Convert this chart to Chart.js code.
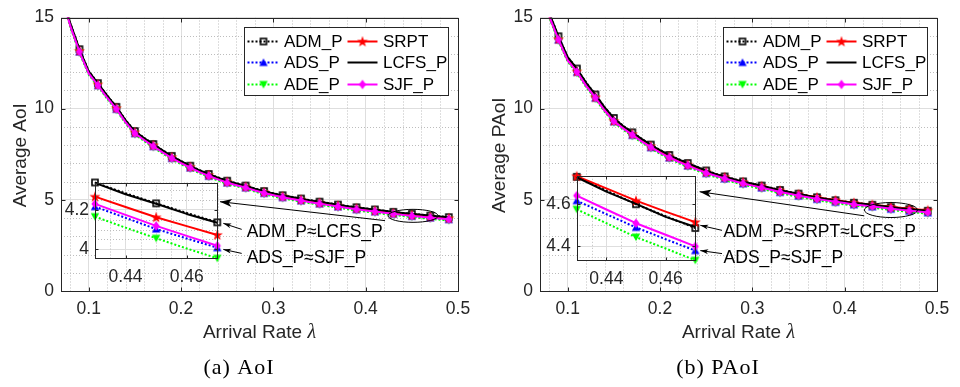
<!DOCTYPE html>
<html><head><meta charset="utf-8">
<script src="https://cdn.jsdelivr.net/npm/chart.js@4.4.1/dist/chart.umd.min.js"></script>
<style>
html,body{margin:0;padding:0;background:#fff;}
#wrap{position:relative;width:960px;height:387px;overflow:hidden;background:#fff;}
#wrap canvas{position:absolute;left:0;top:0;}
</style></head><body>
<div id="wrap">
<canvas id="mainA" width="960" height="387"></canvas>
<canvas id="insetA" width="960" height="387"></canvas>
<canvas id="mainB" width="960" height="387"></canvas>
<canvas id="insetB" width="960" height="387"></canvas>
</div>
<script>
// ---------------- data ----------------
const lambda = [0.07,0.08,0.09,0.10,0.11,0.12,0.13,0.14,0.15,0.16,0.17,0.18,0.19,0.20,0.21,0.22,0.23,0.24,0.25,0.26,0.27,0.28,0.29,0.30,0.31,0.32,0.33,0.34,0.35,0.36,0.37,0.38,0.39,0.40,0.41,0.42,0.43,0.44,0.45,0.46,0.47,0.48,0.49];
const seriesNames = ['ADM_P','ADS_P','ADE_P','SRPT','LCFS_P','SJF_P'];

// (a) Average AoI
const aoiADM  = [16.45,14.70,13.26,12.06,11.40,10.72,10.10,9.37,8.77,8.40,8.06,7.72,7.41,7.13,6.87,6.63,6.42,6.23,6.05,5.91,5.78,5.62,5.48,5.36,5.25,5.16,5.07,4.98,4.90,4.82,4.74,4.66,4.59,4.53,4.47,4.40,4.34,4.285,4.234,4.185,4.137,4.095,4.05];
const aoiADS  = [16.29,14.54,13.11,11.92,11.27,10.59,9.97,9.24,8.64,8.27,7.93,7.59,7.28,7.00,6.75,6.51,6.30,6.11,5.93,5.79,5.66,5.50,5.36,5.24,5.13,5.04,4.95,4.86,4.78,4.70,4.62,4.54,4.467,4.407,4.347,4.277,4.217,4.16,4.103,4.055,4.008,3.962,3.922];
const aoiADE  = [16.24,14.49,13.06,11.87,11.22,10.54,9.92,9.19,8.59,8.22,7.88,7.54,7.23,6.95,6.70,6.46,6.25,6.06,5.88,5.74,5.61,5.45,5.31,5.19,5.08,4.99,4.90,4.81,4.73,4.65,4.57,4.49,4.416,4.356,4.296,4.226,4.166,4.11,4.056,4.004,3.954,3.911,3.871];
const aoiSRPT = [16.35,14.60,13.17,11.98,11.33,10.65,10.03,9.30,8.70,8.33,7.99,7.65,7.34,7.06,6.81,6.57,6.36,6.17,5.99,5.85,5.72,5.56,5.42,5.30,5.19,5.10,5.01,4.92,4.84,4.76,4.68,4.60,4.53,4.465,4.405,4.33,4.268,4.215,4.163,4.118,4.073,4.03,3.99];
const aoiLCFS = [16.44,14.69,13.25,12.05,11.39,10.71,10.09,9.36,8.76,8.39,8.05,7.71,7.40,7.12,6.86,6.62,6.41,6.22,6.04,5.90,5.77,5.61,5.47,5.35,5.24,5.15,5.06,4.97,4.89,4.81,4.73,4.65,4.58,4.52,4.46,4.395,4.338,4.28,4.232,4.18,4.135,4.09,4.045];
const aoiSJF  = [16.30,14.55,13.12,11.93,11.28,10.60,9.98,9.25,8.65,8.28,7.94,7.60,7.29,7.01,6.76,6.52,6.31,6.12,5.94,5.80,5.67,5.51,5.37,5.25,5.14,5.05,4.96,4.87,4.79,4.71,4.63,4.55,4.48,4.42,4.36,4.29,4.231,4.175,4.119,4.068,4.018,3.975,3.935];

// (b) Average PAoI
const paoiADM  = [17.08,15.25,13.97,12.83,12.20,11.43,10.78,10.08,9.49,9.06,8.70,8.35,8.03,7.73,7.46,7.23,7.02,6.81,6.61,6.43,6.28,6.14,6.01,5.89,5.78,5.66,5.54,5.44,5.34,5.23,5.14,5.06,4.98,4.91,4.84,4.785,4.73,4.665,4.60,4.543,4.487,4.445,4.40];
const paoiADS  = [16.88,15.05,13.77,12.63,12.00,11.23,10.58,9.88,9.29,8.90,8.54,8.19,7.87,7.57,7.30,7.07,6.86,6.65,6.45,6.30,6.15,6.01,5.88,5.76,5.65,5.53,5.41,5.31,5.21,5.12,5.03,4.95,4.87,4.80,4.73,4.673,4.617,4.553,4.49,4.434,4.38,4.334,4.29];
const paoiADE  = [16.83,15.00,13.72,12.58,11.95,11.18,10.53,9.83,9.24,8.85,8.49,8.14,7.82,7.52,7.25,7.02,6.81,6.60,6.40,6.25,6.10,5.96,5.83,5.71,5.60,5.48,5.36,5.26,5.16,5.07,4.98,4.90,4.82,4.75,4.68,4.63,4.576,4.51,4.444,4.39,4.334,4.29,4.245];
const paoiSRPT = [16.92,15.09,13.81,12.67,12.04,11.27,10.62,9.92,9.33,8.97,8.61,8.26,7.94,7.64,7.37,7.14,6.93,6.72,6.52,6.40,6.25,6.11,5.98,5.86,5.75,5.63,5.51,5.41,5.31,5.23,5.14,5.06,4.98,4.91,4.84,4.785,4.733,4.675,4.617,4.565,4.515,4.47,4.425];
const paoiLCFS = [17.07,15.24,13.96,12.82,12.19,11.42,10.77,10.07,9.48,9.05,8.69,8.34,8.02,7.72,7.45,7.22,7.01,6.80,6.60,6.42,6.27,6.13,6.00,5.88,5.77,5.65,5.53,5.43,5.33,5.22,5.13,5.05,4.97,4.90,4.83,4.78,4.728,4.66,4.602,4.54,4.492,4.44,4.398];
const paoiSJF  = [16.90,15.07,13.79,12.65,12.02,11.25,10.60,9.90,9.31,8.92,8.56,8.21,7.89,7.59,7.32,7.09,6.88,6.67,6.47,6.32,6.17,6.03,5.90,5.78,5.67,5.55,5.43,5.33,5.23,5.14,5.05,4.97,4.89,4.82,4.75,4.695,4.641,4.575,4.51,4.455,4.40,4.355,4.31];

// ticks & texts
const xTicksMain  = [0.1,0.2,0.3,0.4,0.5];
const yTicksMain  = [0,5,10,15];
const xTicksInset = [0.44,0.46];
const yTicksInsetA = [4,4.2];
const yTicksInsetB = [4.4,4.6];
const yTitles  = ['Average AoI','Average PAoI'];
const xTitle   = ['Arrival Rate ','λ'];
const captions = ['(a) AoI','(b) PAoI'];
const notesA = ['ADM_P≈LCFS_P','ADS_P≈SJF_P'];
const notesB = ['ADM_P≈SRPT≈LCFS_P','ADS_P≈SJF_P'];

// ---------------- style ----------------
const FONT = '"Liberation Sans", Arial, Helvetica, sans-serif';
const SERIF = '"Liberation Serif", "Times New Roman", serif';
const INK = '#262626';
const TICK_SIZE = 17.5, LEGEND_SIZE = 17, TITLE_SIZE = 19, NOTE_SIZE = 17.5;

function mk(w,h,fn){const c=document.createElement('canvas');c.width=w;c.height=h;fn(c.getContext('2d'),w,h);return c;}
const mSquare = mk(10,10,g=>{g.strokeStyle='#000';g.lineWidth=1.6;g.strokeRect(2,2,6,6);});
const mTriUp = mk(10,10,g=>{g.fillStyle='#0000ff';g.beginPath();g.moveTo(5,1);g.lineTo(9.2,8.4);g.lineTo(0.8,8.4);g.closePath();g.fill();});
const mTriDn = mk(10,10,g=>{g.fillStyle='#00ff00';g.beginPath();g.moveTo(5,9);g.lineTo(9.2,1.6);g.lineTo(0.8,1.6);g.closePath();g.fill();});
const mStar = mk(12,12,g=>{g.fillStyle='#ff0000';g.beginPath();for(let k=0;k<10;k++){const r=k%2?2.3:5.8;const a=-Math.PI/2+k*Math.PI/5;const px=6+r*Math.cos(a),py=6.4+r*Math.sin(a);k?g.lineTo(px,py):g.moveTo(px,py);}g.closePath();g.fill();});
const mDiamond = mk(10,12,g=>{g.fillStyle='#ff00ff';g.beginPath();g.moveTo(5,1.2);g.lineTo(8.6,6);g.lineTo(5,10.8);g.lineTo(1.4,6);g.closePath();g.fill();});

const looks = [
  {color:'#000000', dash:[2,2], marker:mSquare, order:5},
  {color:'#0000ff', dash:[2,2], marker:mTriUp, order:4},
  {color:'#00ff00', dash:[2,2], marker:mTriDn, order:3},
  {color:'#ff0000', dash:[], marker:mStar, order:2},
  {color:'#000000', dash:[], marker:null, order:1},
  {color:'#ff00ff', dash:[], marker:mDiamond, order:0},
];

function buildSets(vals, from, to){
  return vals.map((v,i)=>({
    label: seriesNames[i],
    data: lambda.slice(from,to).map((x,k)=>({x:x, y:v[from+k]})),
    borderColor: looks[i].color, backgroundColor: looks[i].color,
    borderWidth: 2, borderDash: looks[i].dash, borderCapStyle:'butt', borderJoinStyle:'round',
    pointStyle: looks[i].marker || 'circle',
    pointRadius: c => (looks[i].marker && (from + c.dataIndex) % 2 === 0) ? 4 : 0,
    pointHoverRadius: 0,
    tension: 0, fill:false, order: looks[i].order
  }));
}

// ---------------- plugins ----------------
function gridLines(chart, o){
  const {ctx, chartArea:a, scales:{x,y}} = chart;
  ctx.save();
  ctx.beginPath(); ctx.rect(a.left,a.top,a.width,a.height); ctx.clip();
  ctx.strokeStyle = '#bdbdbd'; ctx.lineWidth = 1; ctx.setLineDash([1,2]);
  ctx.beginPath();
  const near=(v,s)=>Math.abs(v/s-Math.round(v/s))<1e-6;
  for(let k=Math.ceil(x.min/o.xMinor-1e-6); k*o.xMinor<=x.max+1e-9; k++){
    const v=k*o.xMinor; if(near(v,o.xMajor)) continue;
    const p=Math.round(x.getPixelForValue(v))+0.5; ctx.moveTo(p,a.top); ctx.lineTo(p,a.bottom);
  }
  for(let k=Math.ceil(y.min/o.yMinor-1e-6); k*o.yMinor<=y.max+1e-9; k++){
    const v=k*o.yMinor; if(near(v,o.yMajor)) continue;
    const p=Math.round(y.getPixelForValue(v))+0.5; ctx.moveTo(a.left,p); ctx.lineTo(a.right,p);
  }
  ctx.stroke(); ctx.restore();
}
function boxTicks(chart, o){
  const {ctx, chartArea:a, scales:{x,y}} = chart;
  ctx.save(); ctx.strokeStyle=INK; ctx.lineWidth=1; ctx.setLineDash([]);
  const L=Math.round(a.left)+0.5,R=Math.round(a.right)+0.5,T=Math.round(a.top)+0.5,B=Math.round(a.bottom)+0.5;
  ctx.strokeRect(L,T,R-L,B-T);
  ctx.beginPath();
  for(const t of x.ticks){const p=Math.round(x.getPixelForValue(t.value))+0.5;ctx.moveTo(p,B);ctx.lineTo(p,B-o.tick);ctx.moveTo(p,T);ctx.lineTo(p,T+o.tick);}
  for(const t of y.ticks){const p=Math.round(y.getPixelForValue(t.value))+0.5;ctx.moveTo(L,p);ctx.lineTo(L+o.tick,p);ctx.moveTo(R,p);ctx.lineTo(R-o.tick,p);}
  ctx.stroke(); ctx.restore();
}
function drawLegend(chart){
  const {ctx, chartArea:a} = chart;
  const L=Math.round(a.left+183)+0.5, T=Math.round(a.top+9)+0.5, W=204, H=68;
  ctx.save();
  ctx.fillStyle='#fff'; ctx.fillRect(L,T,W,H);
  ctx.strokeStyle=INK; ctx.lineWidth=1; ctx.strokeRect(L,T,W,H);
  const rows=[T+13.2,T+34.7,T+56.5];
  const cols=[{x0:L+3,x1:L+35,tx:L+39.5},{x0:L+103,x1:L+133,tx:L+138.5}];
  ctx.font=LEGEND_SIZE+'px '+FONT; ctx.textBaseline='middle'; ctx.textAlign='left';
  chart.data.datasets.forEach((d,i)=>{
    const c=cols[Math.floor(i/3)], yy=Math.round(rows[i%3])+0.5;
    ctx.strokeStyle=looks[i].color; ctx.lineWidth=2; ctx.setLineDash(looks[i].dash);
    ctx.beginPath(); ctx.moveTo(c.x0,yy); ctx.lineTo(c.x1,yy); ctx.stroke();
    ctx.setLineDash([]);
    const m=looks[i].marker; if(m) ctx.drawImage(m,(c.x0+c.x1)/2-m.width/2,yy-m.height/2);
    ctx.fillStyle='#000'; ctx.fillText(d.label,c.tx,yy+1);
  });
  ctx.restore();
}
function drawTitles(chart,o){
  const {ctx, chartArea:a} = chart;
  ctx.save(); ctx.fillStyle=INK;
  ctx.font=TITLE_SIZE+'px '+FONT; ctx.textAlign='center'; ctx.textBaseline='middle';
  ctx.translate(a.left-40.5,(a.top+a.bottom)/2+1); ctx.rotate(-Math.PI/2);
  ctx.fillText(o.yTitle,0,0); ctx.setTransform(1,0,0,1,0,0);
  ctx.font=TITLE_SIZE+'px '+FONT; const w1=ctx.measureText(xTitle[0]).width;
  ctx.font='italic '+(TITLE_SIZE+1)+'px '+SERIF; const w2=ctx.measureText(xTitle[1]).width;
  let sx=(a.left+a.right)/2-(w1+w2)/2; const ty=a.bottom+42;
  ctx.textAlign='left'; ctx.font=TITLE_SIZE+'px '+FONT; ctx.fillText(xTitle[0],sx,ty);
  ctx.font='italic '+(TITLE_SIZE+1)+'px '+SERIF; ctx.fillText(xTitle[1],sx+w1,ty);
  ctx.fillStyle='#000'; ctx.font='22px '+SERIF; ctx.textAlign='center';
  try{ctx.letterSpacing='1px';}catch(e){}
  ctx.fillText(o.caption,a.left+178,368);
  ctx.restore();
}
const framePlugin = {
  id:'frame',
  beforeDraw(chart,_a,o){ if(o.fillArea){const a=chart.chartArea;chart.ctx.save();chart.ctx.fillStyle='#fff';chart.ctx.fillRect(a.left,a.top,a.width,a.height);chart.ctx.restore();} },
  beforeDatasetsDraw(chart,_a,o){ gridLines(chart,o); },
  afterDatasetsDraw(chart,_a,o){
    if(o.ellipse){
      const {ctx,scales:{x,y}}=chart, e=o.ellipse;
      ctx.save(); ctx.strokeStyle='#000'; ctx.lineWidth=1;
      ctx.beginPath(); ctx.ellipse(x.getPixelForValue(e.x),y.getPixelForValue(e.y),e.rx,e.ry,0,0,Math.PI*2); ctx.stroke(); ctx.restore();
    }
  },
  afterDraw(chart,_a,o){
    boxTicks(chart,o);
    if(o.legend) drawLegend(chart);
    if(o.yTitle) drawTitles(chart,o);
    if(o.notes) drawNotes(chart,o);
  }
};
function arrow(ctx,fx,fy,tx,ty,len,wid){
  ctx.beginPath(); ctx.moveTo(fx,fy); ctx.lineTo(tx,ty); ctx.stroke();
  const ang=Math.atan2(ty-fy,tx-fx);
  ctx.save(); ctx.translate(tx,ty); ctx.rotate(ang);
  ctx.beginPath(); ctx.moveTo(0,0); ctx.lineTo(-len,-wid/2); ctx.lineTo(-len*0.72,0); ctx.lineTo(-len,wid/2); ctx.closePath(); ctx.fill();
  ctx.restore();
}
function drawNotes(chart,o){
  const {ctx, chartArea:a, scales:{x,y}} = chart;
  const main=o.main, mx=main.scales.x, my=main.scales.y, e=o.bigArrow;
  ctx.save(); ctx.strokeStyle='#000'; ctx.fillStyle='#000'; ctx.lineWidth=1;
  arrow(ctx, mx.getPixelForValue(e.x)+e.dx, my.getPixelForValue(e.y)+e.dy, a.right+e.tipDx, a.top+e.tipDy, 12, 8);
  ctx.font=NOTE_SIZE+'px '+FONT; ctx.textBaseline='middle'; ctx.textAlign='left';
  o.notes.forEach(n=>{
    const tx=x.getPixelForValue(x.max)+n.tdx, ty=y.getPixelForValue(n.series[n.idx])+n.tdy;
    const fx=tx+n.fdx, fy=ty+n.fdy;
    arrow(ctx,fx,fy,tx,ty,8,5);
    ctx.fillText(n.text,fx+n.xdx,fy+n.xdy);
  });
  ctx.restore();
}

function tickCfg(pad){
  return {padding:pad, color:INK, font:{family:FONT,size:TICK_SIZE}, autoSkip:false, maxRotation:0, callback:v=>String(v)};
}
function makeOptions(cfg){
  return {
    responsive:false, animation:false, events:[], devicePixelRatio:1,
    layout:{autoPadding:false, padding:cfg.pad},
    plugins:{legend:{display:false}, tooltip:{enabled:false}, frame:cfg.frame},
    scales:{
      x:{type:'linear', min:cfg.xr[0], max:cfg.xr[1],
         afterBuildTicks:s=>{s.ticks=cfg.xt.map(v=>({value:v}));}, afterFit:s=>{s.height=30;},
         grid:{color:'#dedede', lineWidth:1, drawTicks:false}, border:{display:false}, ticks:tickCfg(cfg.xpad)},
      y:{type:'linear', min:cfg.yr[0], max:cfg.yr[1],
         afterBuildTicks:s=>{s.ticks=cfg.yt.map(v=>({value:v}));}, afterFit:s=>{s.width=40;},
         grid:{color:'#dedede', lineWidth:1, drawTicks:false}, border:{display:false}, ticks:tickCfg(cfg.ypad)}
    }
  };
}

const aoiAll  = [aoiADM,aoiADS,aoiADE,aoiSRPT,aoiLCFS,aoiSJF];
const paoiAll = [paoiADM,paoiADS,paoiADE,paoiSRPT,paoiLCFS,paoiSJF];
const i0 = lambda.indexOf(0.43), i1 = lambda.indexOf(0.47)+1;

function panel(idMain,idInset,all,side){
  const L = side===0;
  const main = new Chart(document.getElementById(idMain),{
    type:'line',
    data:{datasets:buildSets(all,0,lambda.length)},
    options:makeOptions({
      pad: L?{left:21,right:502,top:9,bottom:66}:{left:500,right:23,top:9,bottom:66},
      xr:[0.07,0.5], yr:[0,15], xt:xTicksMain, yt:yTicksMain, xpad:8, ypad:7,
      frame:{xMinor:0.02,xMajor:0.1,yMinor:1,yMajor:5,tick:4,legend:true,
             yTitle:yTitles[side], caption:captions[side],
             ellipse: L?{x:0.4513,y:4.122,rx:25,ry:6.5}:{x:0.4501,y:4.441,rx:26.5,ry:7.5}}
    }),
    plugins:[framePlugin]
  });
  const inset = new Chart(document.getElementById(idInset),{
    type:'line',
    data:{datasets:buildSets(all,i0,i1).map(d=>Object.assign(d,{clip:false}))},
    options:makeOptions({
      pad: L?{left:55,right:742.7,top:182.5,bottom:98.7}:{left:536.7,right:264.7,top:175.8,bottom:96.7},
      xr:[0.43,0.47], yr: L?[3.954,4.34]:[4.334,4.735], xt:xTicksInset, yt: L?yTicksInsetA:yTicksInsetB, xpad:8, ypad:6,
      frame:{xMinor:0.005,xMajor:0.02,yMinor:0.05,yMajor:0.2,tick:3,fillArea:true, main:main,
        bigArrow: L?{x:0.4513,y:4.122,dx:-28,dy:4.8,tipDx:2.7,tipDy:19.2}:{x:0.4501,y:4.441,dx:-26.7,dy:5.8,tipDx:4.3,tipDy:15.9},
        notes: L?[
          {text:notesA[0], series:all[0], idx:i1-1, tdx:6, tdy:1, fdx:18.4, fdy:6, xdx:5, xdy:3},
          {text:notesA[1], series:all[1], idx:i1-1, tdx:6, tdy:1.7, fdx:18.4, fdy:4, xdx:5, xdy:4.3}
        ]:[
          {text:notesB[0], series:all[0], idx:i1-1, tdx:5, tdy:-2.7, fdx:21.7, fdy:5, xdx:1.6, xdy:2.3},
          {text:notesB[1], series:all[1], idx:i1-1, tdx:5, tdy:0, fdx:21.7, fdy:3, xdx:1.6, xdy:5}
        ]}
    }),
    plugins:[framePlugin]
  });
}
panel('mainA','insetA',aoiAll,0);
panel('mainB','insetB',paoiAll,1);
</script>
</body></html>
